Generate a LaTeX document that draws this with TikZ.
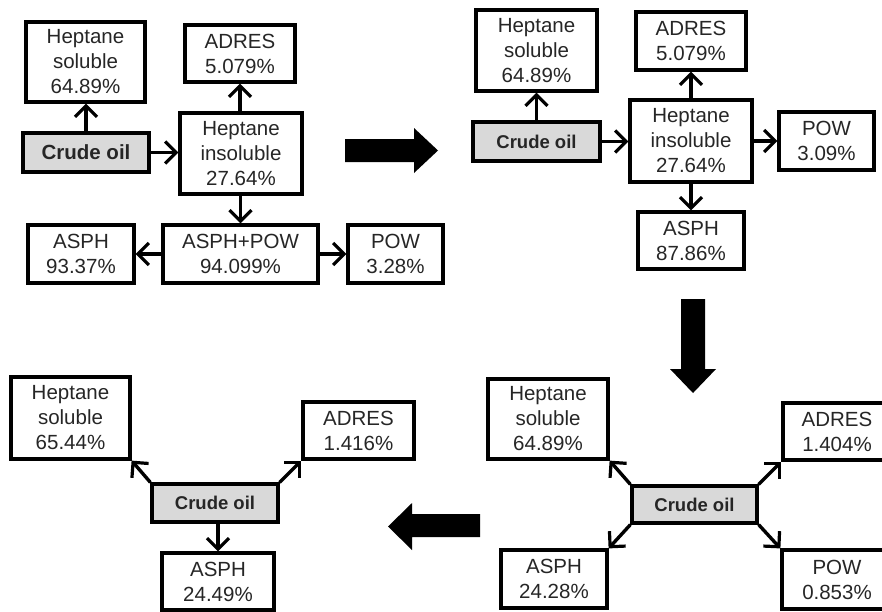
\documentclass[tikz,border=0pt]{standalone}
\usepackage{fontspec}
\setmainfont{Liberation Sans}
\usetikzlibrary{arrows.meta}
\begin{document}
\begin{tikzpicture}[x=1pt,y=-1pt,
  box/.style={draw=black,line width=3.2pt,rectangle,inner sep=0pt,align=center,
    text=black!85,font=\fontsize{20.5}{25}\selectfont},
  crude/.style={box,fill=black!15,font=\fontsize{18.5}{22}\selectfont\bfseries},
  conn/.style={line width=3.4pt,-{Straight Barb[length=11pt,width=22pt,line width=3.2pt]}},
  bigarrow/.style={fill=black,draw=none}]
\useasboundingbox (0,0) rectangle (882,611);
\clip (0,0) rectangle (882,611);
% ---------- top left ----------
\node[box,minimum width=119,minimum height=80] (hs1) at (85.5,62) {Heptane\\soluble\\64.89\%};
\node[box,minimum width=110,minimum height=57] (ad1) at (240,53.5) {ADRES\\5.079\%};
\node[crude,minimum width=126,minimum height=39,font=\fontsize{20.5}{24}\selectfont\bfseries] (co1) at (86,152.5) {Crude oil};
\node[box,minimum width=122,minimum height=81] (hi1) at (241,153.5) {Heptane\\insoluble\\27.64\%};
\node[box,minimum width=106,minimum height=58] (as1) at (81,254) {ASPH\\93.37\%};
\node[box,minimum width=155,minimum height=58] (ap1) at (240.5,254) {ASPH+POW\\94.099\%};
\node[box,minimum width=95,minimum height=58] (pw1) at (395.5,254) {POW\\3.28\%};
\draw[conn] (co1.north) -- (co1.north |- hs1.south);
\draw[conn] (co1.east) -- (hi1.west |- co1.east);
\draw[conn] (hi1.north -| ad1.south) -- (ad1.south);
\draw[conn] (hi1.south -| ap1.north) -- (ap1.north);
\draw[conn] (ap1.west) -- (as1.east);
\draw[conn] (ap1.east) -- (pw1.west);
% ---------- top right ----------
\node[box,minimum width=121,minimum height=81] (hs2) at (536.5,50.5) {Heptane\\soluble\\64.89\%};
\node[box,minimum width=110,minimum height=58] (ad2) at (691,41) {ADRES\\5.079\%};
\node[crude,minimum width=127,minimum height=39] (co2) at (536.5,141.5) {Crude oil};
\node[box,minimum width=122,minimum height=82] (hi2) at (691,141) {Heptane\\insoluble\\27.64\%};
\node[box,minimum width=95,minimum height=58] (pw2) at (826.5,141) {POW\\3.09\%};
\node[box,minimum width=106,minimum height=57] (as2) at (691,240.5) {ASPH\\87.86\%};
\draw[conn] (co2.north) -- (hs2.south);
\draw[conn] (co2.east) -- (hi2.west |- co2.east);
\draw[conn] (hi2.north) -- (ad2.south);
\draw[conn] (hi2.east) -- (pw2.west);
\draw[conn] (hi2.south) -- (as2.north);
% ---------- bottom right ----------
\node[box,minimum width=120,minimum height=80] (hs3) at (548,419) {Heptane\\soluble\\64.89\%};
\node[box,minimum width=108,minimum height=57] (ad3) at (837,431.5) {ADRES\\1.404\%};
\node[crude,minimum width=125,minimum height=37] (co3) at (694.5,504.5) {Crude oil};
\node[box,minimum width=106,minimum height=58] (as3) at (554,579) {ASPH\\24.28\%};
\node[box,minimum width=110,minimum height=59] (pw3) at (837,579.5) {POW\\0.853\%};
\draw[conn] (co3.north west) -- (hs3.south east);
\draw[conn] (co3.north east) -- (ad3.south west);
\draw[conn] (co3.south west) -- (as3.north east);
\draw[conn] (co3.south east) -- (pw3.north west);
% ---------- bottom left ----------
\node[box,minimum width=119,minimum height=82] (hs4) at (70.5,418) {Heptane\\soluble\\65.44\%};
\node[box,minimum width=111,minimum height=57] (ad4) at (358.5,430.5) {ADRES\\1.416\%};
\node[crude,minimum width=126,minimum height=38] (co4) at (215,503) {Crude oil};
\node[box,minimum width=112,minimum height=57] (as4) at (218,581.5) {ASPH\\24.49\%};
\draw[conn] (co4.north west) -- (hs4.south east);
\draw[conn] (co4.north east) -- (ad4.south west);
\draw[conn] (co4.south -| as4.north) -- (as4.north);
% ---------- big process arrows ----------
\fill[bigarrow] (345,139) -- (414,139) -- (414,128) -- (438,150.5) -- (414,173) -- (414,162) -- (345,162) -- cycle;
\fill[bigarrow] (681,299) -- (705,299) -- (705,369) -- (716,369) -- (693,393) -- (670,369) -- (681,369) -- cycle;
\fill[bigarrow] (480,514) -- (412,514) -- (412,503) -- (388,526.5) -- (412,550) -- (412,537) -- (480,537) -- cycle;
\end{tikzpicture}
\end{document}
